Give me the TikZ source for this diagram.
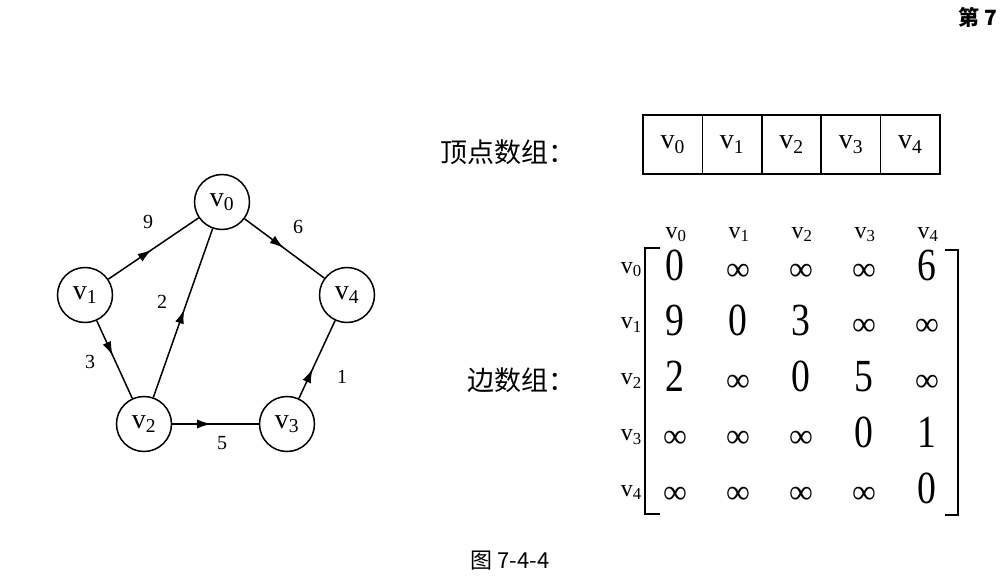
\documentclass[tikz,border=0pt]{standalone}
\usepackage{fontspec}
\setmainfont{Liberation Serif}
\newfontfamily\cjk{Noto Sans CJK SC}
\newfontfamily\tallnum[FakeStretch=0.82]{Liberation Serif}
\usetikzlibrary{decorations.markings,arrows.meta}
\newcommand\inff{{\fontsize{34}{34}\selectfont\scalebox{1.2}[1]{∞}}}
\begin{document}
\begin{tikzpicture}[x=1pt,y=-1pt,
  vert/.style={circle,draw,line width=1.5pt,minimum size=55pt,inner sep=0pt,font=\fontsize{28}{28}\selectfont},
  arc/.style={line width=1.5pt,postaction={decorate},
    decoration={markings,mark=at position #1 with {\arrow{Latex[length=14pt,width=9pt]}}}},
  arc/.default=0.5,
  wt/.style={inner sep=0pt,font=\fontsize{20}{20}\selectfont},
  cell/.style={draw,line width=1.5pt,minimum width=59.4pt,minimum height=59pt,inner sep=0pt,font=\fontsize{28}{28}\selectfont},
  hdr/.style={inner sep=0pt,anchor=base,font=\fontsize{24}{24}\selectfont},
  entry/.style={inner sep=0pt,anchor=base,font=\tallnum\fontsize{46}{46}\selectfont},
  lbl/.style={inner sep=0pt,font=\cjk\fontsize{27}{27}\selectfont}]
  \useasboundingbox (0,0) rectangle (1000,577);
  \fill[white] (0,0) rectangle (1000,577);
  \node[inner sep=0pt,anchor=west,font=\cjk\bfseries\fontsize{21}{21}\selectfont] (page) at (958,17) {第 7};
  % граф
  \node[vert] (v0) at (222,202) {v\textsubscript{0}};
  \node[vert] (v1) at (85,295) {v\textsubscript{1}};
  \node[vert] (v2) at (144,424) {v\textsubscript{2}};
  \node[vert] (v3) at (287,424) {v\textsubscript{3}};
  \node[vert] (v4) at (347,295) {v\textsubscript{4}};
  \draw[arc=0.48] (v1) -- (v0);
  \draw[arc=0.49] (v0) -- (v4);
  \draw[arc=0.52] (v2) -- (v0);
  \draw[arc=0.45] (v1) -- (v2);
  \draw[arc=0.45] (v2) -- (v3);
  \draw[arc=0.38] (v3) -- (v4);
  \node[wt] (w9) at (148,222) {9};
  \node[wt] (w6) at (298,227) {6};
  \node[wt] (w2) at (162,302) {2};
  \node[wt] (w3) at (90,362) {3};
  \node[wt] (w1) at (342,377) {1};
  \node[wt] (w5) at (222,443) {5};
  % массив вершин
  \node[lbl] (vlabel) at (508,152) {顶点数组：};
  \foreach \i in {0,...,4}
    \node[cell] (cell\i) at ({672.7+59.4*\i},144.5) {v\textsubscript{\i}};
  % матрица
  \node[lbl] (elabel) at (521,380) {边数组：};
  \foreach \i in {0,...,4} {
    \node[hdr] (col\i) at ({676+63*\i},238) {v\textsubscript{\i}};
    \node[hdr,anchor=base east] (row\i) at (642,{273+55.8*\i}) {v\textsubscript{\i}};
  }
  \foreach \row [count=\r from 0] in {{0,\inff,\inff,\inff,6},{9,0,3,\inff,\inff},
      {2,\inff,0,5,\inff},{\inff,\inff,\inff,0,1},{\inff,\inff,\inff,\inff,0}}
    \foreach \e [count=\c from 0] in \row
      \node[entry] (m\r\c) at ({675+63*\c},{280+55.8*\r}) {\e};
  \draw[line width=1.8pt] (660,248) -- (645,248) -- (645,514) -- (660,514);
  \draw[line width=1.8pt] (945,250) -- (958,250) -- (958,515) -- (945,515);
  \node[inner sep=0pt,font=\cjk\fontsize{22}{22}\selectfont] (caption) at (510,561) {图 7-4-4};
\end{tikzpicture}
\end{document}
